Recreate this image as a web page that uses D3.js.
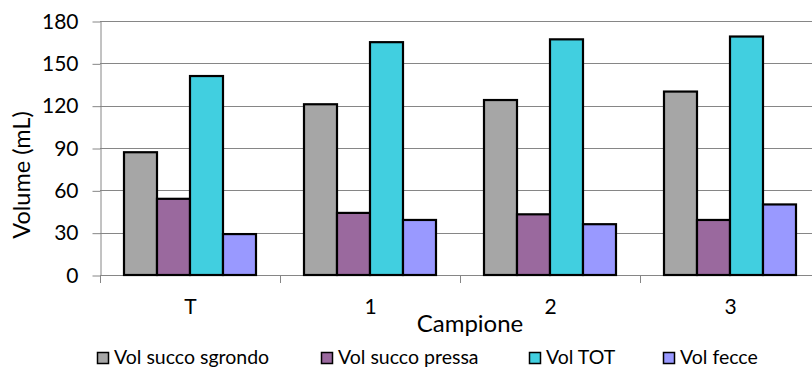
<!DOCTYPE html>
<html>
<head>
<meta charset="utf-8">
<script src="https://cdn.jsdelivr.net/npm/d3@7"></script>
<style>
  body { margin: 0; background: #fff; }
  svg { display: block; font-family: Lato, "Open Sans", sans-serif; }
</style>
</head>
<body>
<script>
const categories = ["T", "1", "2", "3"];
const seriesNames = ["Vol succo sgrondo", "Vol succo pressa", "Vol TOT", "Vol fecce"];
const succoSgrondo = [87, 121, 124, 130];
const succoPressa = [54, 44, 43, 39];
const volTot = [141, 165, 167, 169];
const volFecce = [29, 39, 36, 50];
const yTicks = [0, 30, 60, 90, 120, 150, 180];
const colors = ["#a6a6a6", "#9a699e", "#41cfe0", "#9999ff"];

const width = 812, height = 367;
const plotLeft = 100, plotRight = 820, plotTop = 21, plotBottom = 275;

const series = [succoSgrondo, succoPressa, volTot, volFecce];
const data = categories.map((c, i) => ({
    cat: c,
    values: seriesNames.map((s, j) => ({ key: s, value: series[j][i] }))
}));

const svg = d3.select("body").append("svg")
    .attr("width", width)
    .attr("height", height);

const x0 = d3.scaleBand().domain(categories).range([plotLeft, plotRight]).padding(0);
const bw = x0.bandwidth();
const x1 = d3.scaleBand().domain(seriesNames).range([bw * 24 / 180, bw * 156 / 180]).padding(0);
const y = d3.scaleLinear().domain([0, 180]).range([plotBottom, plotTop]);

// gridlines
svg.append("g")
    .selectAll("line")
    .data(yTicks.filter(d => d > 0))
    .join("line")
    .attr("x1", plotLeft).attr("x2", plotRight)
    .attr("y1", d => Math.round(y(d)) + 0.5)
    .attr("y2", d => Math.round(y(d)) + 0.5)
    .attr("stroke", "#868686");

// y axis
const yAxis = svg.append("g")
    .attr("transform", `translate(${plotLeft + 0.5},0.5)`)
    .call(d3.axisLeft(y).tickValues(yTicks).tickSize(8).tickPadding(14).tickSizeOuter(0));
yAxis.select(".domain").attr("stroke", "#868686");
yAxis.selectAll(".tick line").attr("stroke", "#868686");
yAxis.selectAll(".tick text")
    .attr("font-size", 21)
    .attr("font-family", "Lato")
    .attr("fill", "#000");

// x axis
const xAxis = svg.append("g")
    .attr("transform", `translate(0.5,${plotBottom + 0.5})`)
    .call(d3.axisBottom(x0).tickSize(0).tickPadding(24));
xAxis.select(".domain").attr("stroke", "#868686").attr("d", `M${plotLeft},0H${plotRight}`);
xAxis.selectAll(".tick text")
    .attr("font-size", 21)
    .attr("font-family", "Lato")
    .attr("fill", "#000");

// category boundary ticks
svg.append("g")
    .selectAll("line")
    .data(x0.domain())
    .join("line")
    .attr("x1", d => Math.round(x0(d)) + 0.5)
    .attr("x2", d => Math.round(x0(d)) + 0.5)
    .attr("y1", plotBottom)
    .attr("y2", plotBottom + 8)
    .attr("stroke", "#868686");

// bars
svg.append("g")
    .selectAll("g")
    .data(data)
    .join("g")
    .attr("transform", d => `translate(${x0(d.cat)},0)`)
    .selectAll("rect")
    .data(d => d.values)
    .join("rect")
    .attr("x", d => x1(d.key))
    .attr("y", d => y(d.value))
    .attr("width", x1.bandwidth())
    .attr("height", d => y(0) - y(d.value))
    .attr("fill", (d, i) => colors[i])
    .attr("stroke", "#000")
    .attr("stroke-width", 2.2);

// axis titles
svg.append("text")
    .attr("transform", "translate(30,175) rotate(-90)")
    .attr("text-anchor", "middle")
    .attr("font-size", 23.5)
    .text("Volume (mL)");

svg.append("text")
    .attr("x", 470)
    .attr("y", 332)
    .attr("text-anchor", "middle")
    .attr("font-size", 24)
    .text("Campione");

// legend
const legendX = [97, 321, 529, 663];
const legend = svg.append("g")
    .selectAll("g")
    .data(seriesNames)
    .join("g")
    .attr("transform", (d, i) => `translate(${legendX[i]},352)`);
legend.append("rect")
    .attr("x", 0.5).attr("y", 0.5)
    .attr("width", 11).attr("height", 11)
    .attr("fill", (d, i) => colors[i])
    .attr("stroke", "#000")
    .attr("stroke-width", 1.5);
legend.append("text")
    .attr("x", 17)
    .attr("y", 11.5)
    .attr("font-size", 19.5)
    .text(d => d);
</script>
</body>
</html>
